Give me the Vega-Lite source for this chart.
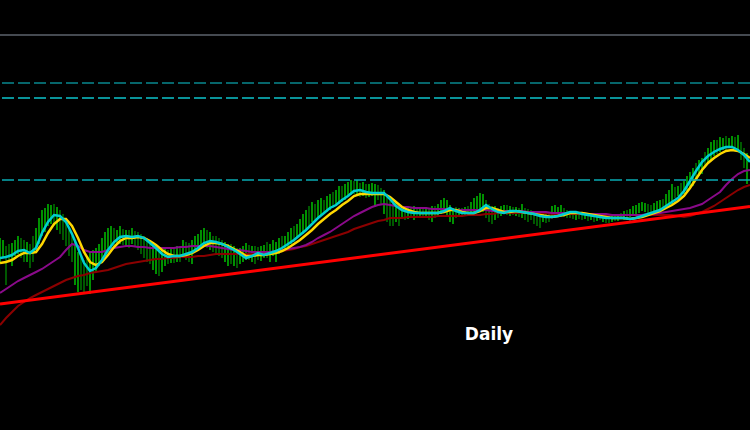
{
"$schema": "https://vega.github.io/schema/vega-lite/v6.json",
"width": 750, "height": 430,
"autosize": {"type": "none"},
"padding": 0,
"background": "#000000",
"config": {"view": {"stroke": null}},
"resolve": {"scale": {"color": "independent", "strokeDash": "independent"}},
"datasets": {
"bars": [
{"t":0,"hi":238,"lo":262,"u":"u"},{"t":1,"hi":240,"lo":258,"u":"u"},{"t":2,"hi":246,"lo":285,"u":"d"},{"t":3,"hi":244,"lo":260,"u":"d"},{"t":4,"hi":243,"lo":266,"u":"u"},{"t":5,"hi":240,"lo":256,"u":"u"},{"t":6,"hi":236,"lo":254,"u":"u"},{"t":7,"hi":238,"lo":258,"u":"d"},{"t":8,"hi":240,"lo":262,"u":"d"},{"t":9,"hi":242,"lo":262,"u":"u"},
{"t":10,"hi":244,"lo":268,"u":"d"},{"t":11,"hi":236,"lo":262,"u":"d"},{"t":12,"hi":228,"lo":250,"u":"u"},{"t":13,"hi":218,"lo":244,"u":"u"},{"t":14,"hi":210,"lo":236,"u":"u"},{"t":15,"hi":208,"lo":232,"u":"u"},{"t":16,"hi":204,"lo":226,"u":"u"},{"t":17,"hi":205,"lo":224,"u":"u"},{"t":18,"hi":204,"lo":226,"u":"d"},{"t":19,"hi":207,"lo":230,"u":"u"},
{"t":20,"hi":210,"lo":234,"u":"d"},{"t":21,"hi":214,"lo":240,"u":"d"},{"t":22,"hi":222,"lo":246,"u":"d"},{"t":23,"hi":230,"lo":256,"u":"d"},{"t":24,"hi":236,"lo":262,"u":"d"},{"t":25,"hi":240,"lo":285,"u":"u"},{"t":26,"hi":252,"lo":292,"u":"u"},{"t":27,"hi":255,"lo":290,"u":"d"},{"t":28,"hi":260,"lo":292,"u":"d"},{"t":29,"hi":258,"lo":286,"u":"d"},
{"t":30,"hi":252,"lo":294,"u":"u"},{"t":31,"hi":250,"lo":280,"u":"u"},{"t":32,"hi":248,"lo":272,"u":"u"},{"t":33,"hi":244,"lo":266,"u":"u"},{"t":34,"hi":238,"lo":260,"u":"u"},{"t":35,"hi":232,"lo":256,"u":"u"},{"t":36,"hi":228,"lo":252,"u":"u"},{"t":37,"hi":226,"lo":250,"u":"u"},{"t":38,"hi":228,"lo":246,"u":"d"},{"t":39,"hi":230,"lo":244,"u":"u"},
{"t":40,"hi":226,"lo":244,"u":"u"},{"t":41,"hi":229,"lo":245,"u":"d"},{"t":42,"hi":230,"lo":246,"u":"u"},{"t":43,"hi":230,"lo":248,"u":"d"},{"t":44,"hi":228,"lo":244,"u":"u"},{"t":45,"hi":231,"lo":246,"u":"d"},{"t":46,"hi":232,"lo":250,"u":"d"},{"t":47,"hi":234,"lo":254,"u":"d"},{"t":48,"hi":236,"lo":258,"u":"d"},{"t":49,"hi":238,"lo":262,"u":"d"},
{"t":50,"hi":240,"lo":264,"u":"d"},{"t":51,"hi":244,"lo":270,"u":"u"},{"t":52,"hi":246,"lo":274,"u":"u"},{"t":53,"hi":248,"lo":276,"u":"d"},{"t":54,"hi":250,"lo":272,"u":"u"},{"t":55,"hi":248,"lo":266,"u":"u"},{"t":56,"hi":250,"lo":264,"u":"d"},{"t":57,"hi":249,"lo":263,"u":"u"},{"t":58,"hi":249,"lo":263,"u":"d"},{"t":59,"hi":246,"lo":262,"u":"u"},
{"t":60,"hi":248,"lo":262,"u":"d"},{"t":61,"hi":240,"lo":258,"u":"u"},{"t":62,"hi":242,"lo":260,"u":"d"},{"t":63,"hi":243,"lo":262,"u":"d"},{"t":64,"hi":240,"lo":264,"u":"u"},{"t":65,"hi":236,"lo":252,"u":"u"},{"t":66,"hi":234,"lo":250,"u":"u"},{"t":67,"hi":230,"lo":248,"u":"u"},{"t":68,"hi":228,"lo":246,"u":"u"},{"t":69,"hi":230,"lo":248,"u":"d"},
{"t":70,"hi":232,"lo":250,"u":"u"},{"t":71,"hi":236,"lo":252,"u":"d"},{"t":72,"hi":236,"lo":254,"u":"d"},{"t":73,"hi":238,"lo":256,"u":"d"},{"t":74,"hi":240,"lo":258,"u":"d"},{"t":75,"hi":242,"lo":262,"u":"u"},{"t":76,"hi":244,"lo":266,"u":"u"},{"t":77,"hi":244,"lo":264,"u":"d"},{"t":78,"hi":246,"lo":266,"u":"u"},{"t":79,"hi":248,"lo":268,"u":"d"},
{"t":80,"hi":248,"lo":264,"u":"u"},{"t":81,"hi":246,"lo":262,"u":"u"},{"t":82,"hi":243,"lo":260,"u":"u"},{"t":83,"hi":245,"lo":260,"u":"d"},{"t":84,"hi":246,"lo":262,"u":"u"},{"t":85,"hi":246,"lo":264,"u":"d"},{"t":86,"hi":247,"lo":260,"u":"d"},{"t":87,"hi":246,"lo":261,"u":"u"},{"t":88,"hi":245,"lo":258,"u":"u"},{"t":89,"hi":242,"lo":258,"u":"d"},
{"t":90,"hi":244,"lo":262,"u":"u"},{"t":91,"hi":240,"lo":256,"u":"u"},{"t":92,"hi":242,"lo":262,"u":"u"},{"t":93,"hi":238,"lo":254,"u":"u"},{"t":94,"hi":236,"lo":252,"u":"d"},{"t":95,"hi":236,"lo":250,"u":"u"},{"t":96,"hi":232,"lo":248,"u":"u"},{"t":97,"hi":228,"lo":244,"u":"u"},{"t":98,"hi":226,"lo":242,"u":"d"},{"t":99,"hi":224,"lo":238,"u":"u"},
{"t":100,"hi":219,"lo":236,"u":"u"},{"t":101,"hi":214,"lo":234,"u":"u"},{"t":102,"hi":210,"lo":230,"u":"u"},{"t":103,"hi":206,"lo":226,"u":"d"},{"t":104,"hi":202,"lo":222,"u":"u"},{"t":105,"hi":204,"lo":220,"u":"d"},{"t":106,"hi":200,"lo":218,"u":"u"},{"t":107,"hi":198,"lo":216,"u":"u"},{"t":108,"hi":200,"lo":214,"u":"d"},{"t":109,"hi":196,"lo":212,"u":"u"},
{"t":110,"hi":194,"lo":210,"u":"u"},{"t":111,"hi":192,"lo":208,"u":"d"},{"t":112,"hi":190,"lo":206,"u":"u"},{"t":113,"hi":186,"lo":204,"u":"u"},{"t":114,"hi":186,"lo":202,"u":"d"},{"t":115,"hi":184,"lo":200,"u":"u"},{"t":116,"hi":182,"lo":196,"u":"u"},{"t":117,"hi":180,"lo":195,"u":"u"},{"t":118,"hi":181,"lo":194,"u":"d"},{"t":119,"hi":180,"lo":196,"u":"u"},
{"t":120,"hi":183,"lo":197,"u":"d"},{"t":121,"hi":182,"lo":196,"u":"u"},{"t":122,"hi":184,"lo":198,"u":"d"},{"t":123,"hi":184,"lo":197,"u":"u"},{"t":124,"hi":183,"lo":196,"u":"u"},{"t":125,"hi":184,"lo":207,"u":"u"},{"t":126,"hi":185,"lo":200,"u":"d"},{"t":127,"hi":188,"lo":205,"u":"d"},{"t":128,"hi":190,"lo":214,"u":"u"},{"t":129,"hi":196,"lo":222,"u":"d"},
{"t":130,"hi":198,"lo":226,"u":"d"},{"t":131,"hi":200,"lo":226,"u":"d"},{"t":132,"hi":202,"lo":222,"u":"u"},{"t":133,"hi":204,"lo":226,"u":"d"},{"t":134,"hi":206,"lo":218,"u":"u"},{"t":135,"hi":207,"lo":220,"u":"d"},{"t":136,"hi":207,"lo":219,"u":"u"},{"t":137,"hi":208,"lo":218,"u":"d"},{"t":138,"hi":206,"lo":220,"u":"u"},{"t":139,"hi":208,"lo":216,"u":"d"},
{"t":140,"hi":208,"lo":218,"u":"u"},{"t":141,"hi":209,"lo":216,"u":"d"},{"t":142,"hi":207,"lo":216,"u":"u"},{"t":143,"hi":208,"lo":220,"u":"d"},{"t":144,"hi":206,"lo":222,"u":"u"},{"t":145,"hi":206,"lo":218,"u":"d"},{"t":146,"hi":204,"lo":216,"u":"u"},{"t":147,"hi":200,"lo":214,"u":"u"},{"t":148,"hi":198,"lo":213,"u":"u"},{"t":149,"hi":200,"lo":215,"u":"u"},
{"t":150,"hi":205,"lo":222,"u":"u"},{"t":151,"hi":208,"lo":224,"u":"u"},{"t":152,"hi":207,"lo":218,"u":"d"},{"t":153,"hi":208,"lo":216,"u":"u"},{"t":154,"hi":208,"lo":217,"u":"d"},{"t":155,"hi":207,"lo":216,"u":"u"},{"t":156,"hi":206,"lo":216,"u":"d"},{"t":157,"hi":202,"lo":214,"u":"u"},{"t":158,"hi":198,"lo":213,"u":"u"},{"t":159,"hi":196,"lo":211,"u":"u"},
{"t":160,"hi":193,"lo":210,"u":"u"},{"t":161,"hi":194,"lo":212,"u":"u"},{"t":162,"hi":200,"lo":218,"u":"d"},{"t":163,"hi":204,"lo":222,"u":"d"},{"t":164,"hi":206,"lo":224,"u":"d"},{"t":165,"hi":206,"lo":220,"u":"u"},{"t":166,"hi":208,"lo":218,"u":"d"},{"t":167,"hi":206,"lo":216,"u":"u"},{"t":168,"hi":205,"lo":214,"u":"u"},{"t":169,"hi":205,"lo":215,"u":"d"},
{"t":170,"hi":206,"lo":216,"u":"u"},{"t":171,"hi":207,"lo":215,"u":"d"},{"t":172,"hi":207,"lo":216,"u":"u"},{"t":173,"hi":208,"lo":217,"u":"d"},{"t":174,"hi":204,"lo":218,"u":"u"},{"t":175,"hi":208,"lo":220,"u":"d"},{"t":176,"hi":209,"lo":222,"u":"d"},{"t":177,"hi":210,"lo":220,"u":"d"},{"t":178,"hi":211,"lo":224,"u":"d"},{"t":179,"hi":212,"lo":226,"u":"d"},
{"t":180,"hi":212,"lo":228,"u":"d"},{"t":181,"hi":213,"lo":222,"u":"u"},{"t":182,"hi":212,"lo":223,"u":"d"},{"t":183,"hi":212,"lo":222,"u":"d"},{"t":184,"hi":206,"lo":218,"u":"u"},{"t":185,"hi":205,"lo":216,"u":"u"},{"t":186,"hi":207,"lo":214,"u":"u"},{"t":187,"hi":205,"lo":215,"u":"u"},{"t":188,"hi":208,"lo":217,"u":"d"},{"t":189,"hi":210,"lo":218,"u":"d"},
{"t":190,"hi":211,"lo":218,"u":"d"},{"t":191,"hi":212,"lo":219,"u":"d"},{"t":192,"hi":212,"lo":220,"u":"u"},{"t":193,"hi":213,"lo":219,"u":"d"},{"t":194,"hi":213,"lo":220,"u":"d"},{"t":195,"hi":213,"lo":219,"u":"u"},{"t":196,"hi":214,"lo":221,"u":"d"},{"t":197,"hi":214,"lo":220,"u":"u"},{"t":198,"hi":213,"lo":222,"u":"d"},{"t":199,"hi":215,"lo":221,"u":"u"},
{"t":200,"hi":214,"lo":220,"u":"d"},{"t":201,"hi":213,"lo":222,"u":"u"},{"t":202,"hi":214,"lo":223,"u":"d"},{"t":203,"hi":215,"lo":223,"u":"d"},{"t":204,"hi":215,"lo":222,"u":"u"},{"t":205,"hi":215,"lo":221,"u":"d"},{"t":206,"hi":214,"lo":221,"u":"u"},{"t":207,"hi":213,"lo":219,"u":"d"},{"t":208,"hi":211,"lo":220,"u":"u"},{"t":209,"hi":210,"lo":218,"u":"d"},
{"t":210,"hi":209,"lo":217,"u":"u"},{"t":211,"hi":206,"lo":216,"u":"u"},{"t":212,"hi":205,"lo":214,"u":"u"},{"t":213,"hi":203,"lo":213,"u":"u"},{"t":214,"hi":202,"lo":211,"u":"u"},{"t":215,"hi":203,"lo":212,"u":"u"},{"t":216,"hi":204,"lo":213,"u":"d"},{"t":217,"hi":205,"lo":214,"u":"d"},{"t":218,"hi":203,"lo":212,"u":"u"},{"t":219,"hi":201,"lo":210,"u":"u"},
{"t":220,"hi":200,"lo":209,"u":"u"},{"t":221,"hi":199,"lo":208,"u":"d"},{"t":222,"hi":194,"lo":206,"u":"u"},{"t":223,"hi":190,"lo":204,"u":"u"},{"t":224,"hi":184,"lo":204,"u":"u"},{"t":225,"hi":187,"lo":198,"u":"d"},{"t":226,"hi":186,"lo":196,"u":"u"},{"t":227,"hi":183,"lo":197,"u":"d"},{"t":228,"hi":181,"lo":194,"u":"u"},{"t":229,"hi":176,"lo":191,"u":"u"},
{"t":230,"hi":172,"lo":188,"u":"u"},{"t":231,"hi":168,"lo":186,"u":"u"},{"t":232,"hi":163,"lo":180,"u":"d"},{"t":233,"hi":160,"lo":176,"u":"u"},{"t":234,"hi":158,"lo":174,"u":"u"},{"t":235,"hi":152,"lo":168,"u":"d"},{"t":236,"hi":148,"lo":164,"u":"u"},{"t":237,"hi":142,"lo":160,"u":"u"},{"t":238,"hi":140,"lo":156,"u":"u"},{"t":239,"hi":140,"lo":154,"u":"d"},
{"t":240,"hi":137,"lo":152,"u":"u"},{"t":241,"hi":138,"lo":150,"u":"u"},{"t":242,"hi":136,"lo":150,"u":"d"},{"t":243,"hi":138,"lo":148,"u":"u"},{"t":244,"hi":136,"lo":146,"u":"u"},{"t":245,"hi":137,"lo":150,"u":"d"},{"t":246,"hi":135,"lo":151,"u":"u"},{"t":247,"hi":142,"lo":160,"u":"d"},{"t":248,"hi":148,"lo":168,"u":"d"},{"t":249,"hi":153,"lo":184,"u":"u"}
],
"ma": [
{"t":0,"c":258,"y":263,"p":293,"r":325},{"t":2,"c":257,"y":262,"p":289,"r":318},{"t":4,"c":255,"y":260,"p":285,"r":312},{"t":6,"c":251,"y":256,"p":281,"r":306},{"t":8,"c":250,"y":253,"p":278,"r":302},{"t":10,"c":253,"y":253,"p":275,"r":298},{"t":12,"c":248,"y":252,"p":272,"r":295},{"t":14,"c":233,"y":244,"p":269,"r":292},{"t":16,"c":222,"y":233,"p":265,"r":289},{"t":18,"c":215,"y":224,"p":261,"r":286},
{"t":20,"c":216,"y":219,"p":257,"r":283},{"t":22,"c":222,"y":219,"p":250,"r":280},{"t":24,"c":234,"y":226,"p":244,"r":278},{"t":26,"c":248,"y":238,"p":246,"r":276},{"t":28,"c":263,"y":252,"p":250,"r":275},{"t":30,"c":271,"y":262,"p":252,"r":273},{"t":32,"c":268,"y":265,"p":252,"r":272},{"t":34,"c":260,"y":262,"p":252,"r":271},{"t":36,"c":250,"y":255,"p":250,"r":270},{"t":38,"c":242,"y":247,"p":248,"r":268},
{"t":40,"c":237,"y":241,"p":247,"r":266},{"t":42,"c":236,"y":238,"p":246,"r":264},{"t":44,"c":237,"y":238,"p":246,"r":263},{"t":46,"c":236,"y":237,"p":247,"r":262},{"t":48,"c":238,"y":238,"p":247,"r":261},{"t":50,"c":243,"y":241,"p":248,"r":260},{"t":52,"c":248,"y":245,"p":248,"r":259},{"t":54,"c":254,"y":250,"p":248,"r":259},{"t":56,"c":257,"y":254,"p":248,"r":258},{"t":58,"c":256,"y":256,"p":248,"r":258},
{"t":60,"c":256,"y":256,"p":247,"r":257},{"t":62,"c":254,"y":255,"p":247,"r":257},{"t":64,"c":252,"y":253,"p":246,"r":257},{"t":66,"c":248,"y":250,"p":246,"r":256},{"t":68,"c":243,"y":246,"p":246,"r":256},{"t":70,"c":241,"y":243,"p":246,"r":255},{"t":72,"c":242,"y":243,"p":247,"r":254},{"t":74,"c":244,"y":244,"p":248,"r":254},{"t":76,"c":247,"y":246,"p":249,"r":254},{"t":78,"c":250,"y":249,"p":250,"r":254},
{"t":80,"c":254,"y":252,"p":250,"r":254},{"t":82,"c":258,"y":256,"p":251,"r":254},{"t":84,"c":256,"y":256,"p":252,"r":254},{"t":86,"c":253,"y":255,"p":252,"r":254},{"t":88,"c":255,"y":255,"p":252,"r":254},{"t":90,"c":253,"y":254,"p":252,"r":253},{"t":92,"c":251,"y":253,"p":251,"r":252},{"t":94,"c":248,"y":251,"p":250,"r":251},{"t":96,"c":244,"y":248,"p":249,"r":250},{"t":98,"c":240,"y":244,"p":248,"r":249},
{"t":100,"c":235,"y":240,"p":247,"r":247},{"t":102,"c":230,"y":235,"p":245,"r":246},{"t":104,"c":224,"y":230,"p":242,"r":244},{"t":106,"c":218,"y":224,"p":238,"r":242},{"t":108,"c":213,"y":219,"p":235,"r":240},{"t":110,"c":208,"y":214,"p":232,"r":238},{"t":112,"c":205,"y":210,"p":228,"r":236},{"t":114,"c":200,"y":205,"p":224,"r":234},{"t":116,"c":196,"y":201,"p":220,"r":232},{"t":118,"c":191,"y":196,"p":216,"r":229},
{"t":120,"c":190,"y":194,"p":213,"r":227},{"t":122,"c":192,"y":194,"p":210,"r":225},{"t":124,"c":193,"y":194,"p":207,"r":223},{"t":126,"c":193,"y":194,"p":205,"r":221},{"t":128,"c":193,"y":194,"p":204,"r":220},{"t":130,"c":199,"y":197,"p":205,"r":218},{"t":132,"c":206,"y":202,"p":206,"r":218},{"t":134,"c":210,"y":207,"p":207,"r":218},{"t":136,"c":212,"y":210,"p":207,"r":217},{"t":138,"c":213,"y":212,"p":208,"r":217},
{"t":140,"c":213,"y":213,"p":208,"r":217},{"t":142,"c":213,"y":213,"p":208,"r":217},{"t":144,"c":213,"y":213,"p":209,"r":217},{"t":146,"c":213,"y":213,"p":209,"r":216},{"t":148,"c":211,"y":212,"p":209,"r":216},{"t":150,"c":208,"y":210,"p":209,"r":216},{"t":152,"c":211,"y":210,"p":210,"r":216},{"t":154,"c":213,"y":212,"p":210,"r":216},{"t":156,"c":213,"y":213,"p":210,"r":215},{"t":158,"c":213,"y":213,"p":210,"r":215},
{"t":160,"c":210,"y":211,"p":210,"r":215},{"t":162,"c":205,"y":208,"p":210,"r":214},{"t":164,"c":209,"y":208,"p":211,"r":214},{"t":166,"c":212,"y":210,"p":211,"r":213},{"t":168,"c":213,"y":212,"p":211,"r":213},{"t":170,"c":211,"y":212,"p":211,"r":213},{"t":172,"c":211,"y":211,"p":211,"r":213},{"t":174,"c":212,"y":212,"p":211,"r":213},{"t":176,"c":213,"y":213,"p":212,"r":213},{"t":178,"c":214,"y":214,"p":212,"r":213},
{"t":180,"c":216,"y":215,"p":212,"r":213},{"t":182,"c":217,"y":216,"p":212,"r":213},{"t":184,"c":217,"y":217,"p":213,"r":214},{"t":186,"c":216,"y":216,"p":213,"r":214},{"t":188,"c":214,"y":215,"p":213,"r":214},{"t":190,"c":212,"y":213,"p":213,"r":214},{"t":192,"c":212,"y":213,"p":213,"r":214},{"t":194,"c":214,"y":213,"p":213,"r":214},{"t":196,"c":215,"y":214,"p":214,"r":214},{"t":198,"c":216,"y":215,"p":214,"r":215},
{"t":200,"c":217,"y":216,"p":214,"r":215},{"t":202,"c":218,"y":217,"p":214,"r":215},{"t":204,"c":218,"y":218,"p":215,"r":215},{"t":206,"c":218,"y":218,"p":215,"r":215},{"t":208,"c":218,"y":218,"p":215,"r":215},{"t":210,"c":219,"y":219,"p":215,"r":215},{"t":212,"c":218,"y":218,"p":215,"r":215},{"t":214,"c":216,"y":217,"p":215,"r":215},{"t":216,"c":214,"y":215,"p":214,"r":215},{"t":218,"c":212,"y":213,"p":214,"r":215},
{"t":220,"c":210,"y":211,"p":213,"r":215},{"t":222,"c":206,"y":208,"p":212,"r":215},{"t":224,"c":202,"y":205,"p":211,"r":215},{"t":226,"c":198,"y":201,"p":210,"r":216},{"t":228,"c":191,"y":196,"p":209,"r":217},{"t":230,"c":181,"y":188,"p":208,"r":216},{"t":232,"c":171,"y":179,"p":206,"r":214},{"t":234,"c":162,"y":170,"p":204,"r":212},{"t":236,"c":156,"y":163,"p":200,"r":209},{"t":238,"c":152,"y":158,"p":196,"r":206},
{"t":240,"c":149,"y":154,"p":192,"r":202},{"t":242,"c":147,"y":151,"p":185,"r":198},{"t":244,"c":147,"y":150,"p":179,"r":194},{"t":246,"c":150,"y":151,"p":174,"r":190},{"t":248,"c":155,"y":154,"p":171,"r":187},{"t":250,"c":162,"y":158,"p":170,"r":185}
],
"trend": [{"t":0,"v":304},{"t":250,"v":206.5}],
"levels": [{"kind":"top","v":35},{"kind":"r1","v":83},{"kind":"r2","v":98},{"kind":"r3","v":180}],
"label": [{"t":163,"v":340,"txt":"Daily"}]
},
"layer": [
{"data":{"name":"bars"},"mark":{"type":"rule","strokeWidth":1.2},
 "encoding":{
  "x":{"field":"t","type":"quantitative","scale":{"domain":[0,250],"nice":false,"zero":false},"axis":null},
  "y":{"field":"hi","type":"quantitative","scale":{"domain":[0,430],"reverse":true,"nice":false,"zero":false},"axis":null},
  "y2":{"field":"lo"},
  "color":{"field":"u","type":"nominal","scale":{"domain":["u","d"],"range":["#00f000","#009400"]},"legend":null}}},
{"data":{"name":"ma"},"mark":{"type":"line","color":"#8b0000","strokeWidth":2},
 "encoding":{"x":{"field":"t","type":"quantitative"},"y":{"field":"r","type":"quantitative"}}},
{"data":{"name":"ma"},"mark":{"type":"line","color":"#8a0a8a","strokeWidth":2},
 "encoding":{"x":{"field":"t","type":"quantitative"},"y":{"field":"p","type":"quantitative"}}},
{"data":{"name":"ma"},"mark":{"type":"line","color":"#ffd700","strokeWidth":2.5},
 "encoding":{"x":{"field":"t","type":"quantitative"},"y":{"field":"y","type":"quantitative"}}},
{"data":{"name":"ma"},"mark":{"type":"line","color":"#00ced1","strokeWidth":2.5},
 "encoding":{"x":{"field":"t","type":"quantitative"},"y":{"field":"c","type":"quantitative"}}},
{"data":{"name":"trend"},"mark":{"type":"line","color":"#ff0000","strokeWidth":3},
 "encoding":{"x":{"field":"t","type":"quantitative"},"y":{"field":"v","type":"quantitative"}}},
{"data":{"name":"levels"},"mark":{"type":"rule","strokeWidth":1.5},
 "encoding":{"y":{"field":"v","type":"quantitative"},
  "color":{"field":"kind","type":"nominal","scale":{"domain":["top","r1","r2","r3"],"range":["#5c636c","#08888e","#0cc4cc","#08aab2"]},"legend":null},
  "strokeDash":{"field":"kind","type":"nominal","scale":{"domain":["top","r1","r2","r3"],"range":[[1,0],[12,4],[12,4],[12,4]]},"legend":null}}},
{"data":{"name":"label"},"mark":{"type":"text","font":"DejaVu Sans","fontWeight":"bold","fontSize":17,"color":"#ffffff","align":"center","baseline":"alphabetic"},
 "encoding":{"x":{"field":"t","type":"quantitative"},"y":{"field":"v","type":"quantitative"},"text":{"field":"txt"}}}
]
}
